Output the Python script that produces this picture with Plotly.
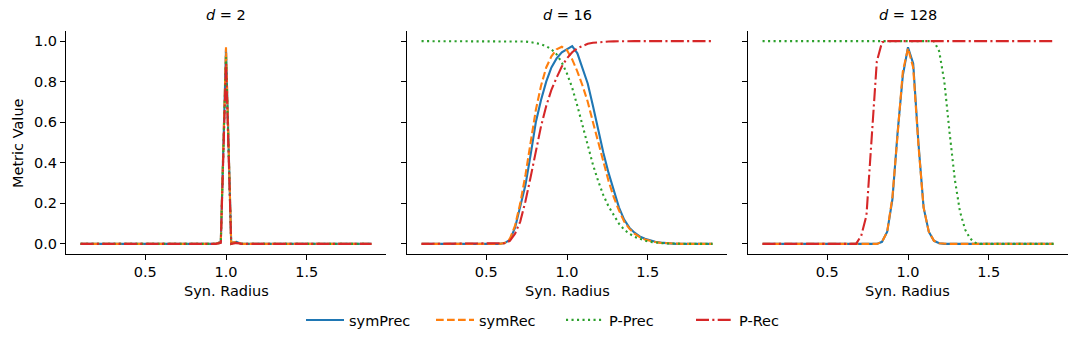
import plotly.graph_objects as go

# Sample grid (Syn. Radius)
x_radius = [0.1000, 0.1321, 0.1643, 0.1964, 0.2286, 0.2607, 0.2929, 0.3250, 0.3571, 0.3893,
            0.4214, 0.4536, 0.4857, 0.5179, 0.5500, 0.5821, 0.6143, 0.6464, 0.6786, 0.7107,
            0.7429, 0.7750, 0.8071, 0.8393, 0.8714, 0.9036, 0.9357, 0.9679, 1.0000, 1.0321,
            1.0643, 1.0964, 1.1286, 1.1607, 1.1929, 1.2250, 1.2571, 1.2893, 1.3214, 1.3536,
            1.3857, 1.4179, 1.4500, 1.4821, 1.5143, 1.5464, 1.5786, 1.6107, 1.6429, 1.6750,
            1.7071, 1.7393, 1.7714, 1.8036, 1.8357, 1.8679, 1.9000]

panel_titles = ["<i>d</i> = 2", "<i>d</i> = 16", "<i>d</i> = 128"]
series_names = ["symPrec", "symRec", "P-Prec", "P-Rec"]

# ---- d = 2 ----
sym_prec_d2 = [0, 0, 0, 0, 0, 0, 0, 0, 0, 0,
               0, 0, 0, 0, 0, 0, 0, 0, 0, 0,
               0, 0, 0, 0, 0, 0, 0, 0.01, 0.96, 0.005,
               0.01, 0, 0, 0, 0, 0, 0, 0, 0, 0,
               0, 0, 0, 0, 0, 0, 0, 0, 0, 0,
               0, 0, 0, 0, 0, 0, 0]
sym_rec_d2 = [0, 0, 0, 0, 0, 0, 0, 0, 0, 0,
              0, 0, 0, 0, 0, 0, 0, 0, 0, 0,
              0, 0, 0, 0, 0, 0, 0, 0.01, 0.97, 0.005,
              0.01, 0, 0, 0, 0, 0, 0, 0, 0, 0,
              0, 0, 0, 0, 0, 0, 0, 0, 0, 0,
              0, 0, 0, 0, 0, 0, 0]
p_prec_d2 = [0, 0, 0, 0, 0, 0, 0, 0, 0, 0,
             0, 0, 0, 0, 0, 0, 0, 0, 0, 0,
             0, 0, 0, 0, 0, 0, 0, 0.005, 0.92, 0,
             0.005, 0, 0, 0, 0, 0, 0, 0, 0, 0,
             0, 0, 0, 0, 0, 0, 0, 0, 0, 0,
             0, 0, 0, 0, 0, 0, 0]
p_rec_d2 = [0, 0, 0, 0, 0, 0, 0, 0, 0, 0,
            0, 0, 0, 0, 0, 0, 0, 0, 0, 0,
            0, 0, 0, 0, 0, 0, 0, 0.005, 0.89, 0,
            0.005, 0, 0, 0, 0, 0, 0, 0, 0, 0,
            0, 0, 0, 0, 0, 0, 0, 0, 0, 0,
            0, 0, 0, 0, 0, 0, 0]

# ---- d = 16 ----
sym_prec_d16 = [0, 0, 0, 0, 0, 0, 0, 0, 0, 0,
                0, 0, 0, 0, 0, 0, 0.004, 0.02, 0.08, 0.18,
                0.29, 0.44, 0.60, 0.71, 0.80, 0.87, 0.915, 0.945, 0.962, 0.975,
                0.94, 0.87, 0.79, 0.68, 0.56, 0.45, 0.35, 0.26, 0.18, 0.12,
                0.08, 0.055, 0.037, 0.025, 0.016, 0.01, 0.006, 0.003, 0.001, 0,
                0, 0, 0, 0, 0, 0, 0]
sym_rec_d16 = [0, 0, 0, 0, 0, 0, 0, 0, 0, 0,
               0, 0, 0, 0, 0, 0, 0.004, 0.025, 0.09, 0.20,
               0.34, 0.50, 0.66, 0.78, 0.87, 0.925, 0.96, 0.972, 0.955, 0.91,
               0.85, 0.78, 0.70, 0.60, 0.50, 0.40, 0.31, 0.23, 0.165, 0.11,
               0.075, 0.05, 0.033, 0.022, 0.014, 0.009, 0.005, 0.003, 0.001, 0,
               0, 0, 0, 0, 0, 0, 0]
p_prec_d16 = [1, 1, 1, 1, 1, 1, 1, 1, 1, 1,
              1, 1, 1, 1, 1, 1, 1, 1, 1, 1,
              0.998, 0.995, 0.99, 0.985, 0.975, 0.96, 0.935, 0.895, 0.84, 0.77,
              0.68, 0.58, 0.48, 0.39, 0.31, 0.24, 0.185, 0.14, 0.10, 0.07,
              0.05, 0.035, 0.024, 0.016, 0.01, 0.006, 0.004, 0.002, 0.001, 0,
              0, 0, 0, 0, 0, 0, 0]
p_rec_d16 = [0, 0, 0, 0, 0, 0, 0, 0, 0, 0,
             0, 0, 0, 0, 0, 0, 0.003, 0.015, 0.05, 0.11,
             0.21, 0.33, 0.46, 0.58, 0.68, 0.76, 0.82, 0.875, 0.915, 0.945,
             0.965, 0.978, 0.987, 0.992, 0.995, 0.997, 0.998, 0.999, 1, 1,
             1, 1, 1, 1, 1, 1, 1, 1, 1, 1,
             1, 1, 1, 1, 1, 1, 1]

# ---- d = 128 ----
sym_prec_d128 = [0, 0, 0, 0, 0, 0, 0, 0, 0, 0,
                 0, 0, 0, 0, 0, 0, 0, 0, 0, 0,
                 0, 0, 0, 0.01, 0.06, 0.22, 0.55, 0.83, 0.97, 0.89,
                 0.50, 0.18, 0.06, 0.015, 0.003, 0, 0, 0, 0, 0,
                 0, 0, 0, 0, 0, 0, 0, 0, 0, 0,
                 0, 0, 0, 0, 0, 0, 0]
sym_rec_d128 = [0, 0, 0, 0, 0, 0, 0, 0, 0, 0,
                0, 0, 0, 0, 0, 0, 0, 0, 0, 0,
                0, 0, 0, 0.01, 0.06, 0.23, 0.56, 0.85, 0.965, 0.87,
                0.49, 0.18, 0.06, 0.015, 0.003, 0, 0, 0, 0, 0,
                0, 0, 0, 0, 0, 0, 0, 0, 0, 0,
                0, 0, 0, 0, 0, 0, 0]
p_prec_d128 = [1, 1, 1, 1, 1, 1, 1, 1, 1, 1,
               1, 1, 1, 1, 1, 1, 1, 1, 1, 1,
               1, 1, 1, 1, 1, 1, 1, 1, 1, 1,
               1, 1, 1, 1, 0.95, 0.80, 0.55, 0.32, 0.16, 0.07,
               0.025, 0.005, 0, 0, 0, 0, 0, 0, 0, 0,
               0, 0, 0, 0, 0, 0, 0]
p_rec_d128 = [0, 0, 0, 0, 0, 0, 0, 0, 0, 0,
              0, 0, 0, 0, 0, 0, 0, 0, 0, 0.04,
              0.14, 0.52, 0.90, 0.995, 1, 1, 1, 1, 1, 1,
              1, 1, 1, 1, 1, 1, 1, 1, 1, 1,
              1, 1, 1, 1, 1, 1, 1, 1, 1, 1,
              1, 1, 1, 1, 1, 1, 1]

panels = [
    [sym_prec_d2, sym_rec_d2, p_prec_d2, p_rec_d2],
    [sym_prec_d16, sym_rec_d16, p_prec_d16, p_rec_d16],
    [sym_prec_d128, sym_rec_d128, p_prec_d128, p_rec_d128],
]

colors = ["#1f77b4", "#ff7f0e", "#2ca02c", "#d62728"]
dashes = ["solid", "7.7px,3.3px", "2.1px,3.4px", "13px,3.3px,2.1px,3.3px"]

W, H = 1079, 346
FONT = "DejaVu Sans"
FS = 14.5
x_domains = [(66 / W, 386 / W), (407 / W, 727 / W), (748 / W, 1068 / W)]
y_domain = (1 - 254 / H, 1 - 31 / H)

fig = go.Figure()
for p, series in enumerate(panels):
    ax = "" if p == 0 else str(p + 1)
    for s, vals in enumerate(series):
        fig.add_trace(go.Scatter(
            x=x_radius, y=vals, mode="lines",
            name=series_names[s], legendgroup=series_names[s],
            showlegend=(p == 0),
            line=dict(color=colors[s], width=2.1, dash=dashes[s]),
            xaxis="x" + ax, yaxis="y" + ax,
        ))

layout = dict(
    width=W, height=H,
    margin=dict(l=0, r=0, t=0, b=0, autoexpand=False),
    paper_bgcolor="white", plot_bgcolor="white",
    font=dict(family=FONT, size=FS, color="black"),
    legend=dict(orientation="h", x=301 / W, xanchor="left", y=1 - 320 / H,
                yanchor="middle", font=dict(size=FS), bgcolor="rgba(0,0,0,0)",
                entrywidth=77, tracegroupgap=0, itemwidth=38),
)
annotations = []
for p in range(3):
    ax = "" if p == 0 else str(p + 1)
    layout["xaxis" + ax] = dict(
        domain=list(x_domains[p]), range=[0.01, 1.99], anchor="y" + ax,
        tickvals=[0.5, 1.0, 1.5], ticktext=["0.5", "1.0", "1.5"],
        ticks="outside", ticklen=5, tickwidth=1, tickcolor="black",
        showline=True, linecolor="black", linewidth=1.1, automargin=False,
        showgrid=False, zeroline=False, tickfont=dict(size=FS),
    )
    layout["yaxis" + ax] = dict(
        domain=list(y_domain), range=[-0.05, 1.05], anchor="x" + ax,
        tickvals=[0, 0.2, 0.4, 0.6, 0.8, 1.0],
        ticktext=["0.0", "0.2", "0.4", "0.6", "0.8", "1.0"],
        showticklabels=(p == 0), automargin=False,
        ticks="outside", ticklen=5, tickwidth=1, tickcolor="black",
        showline=True, linecolor="black", linewidth=1.1,
        showgrid=False, zeroline=False, tickfont=dict(size=FS),
    )
    cx = (x_domains[p][0] + x_domains[p][1]) / 2
    annotations.append(dict(text=panel_titles[p], x=cx, y=1 - 15 / H, xref="paper", yref="paper",
                            showarrow=False, xanchor="center", yanchor="middle",
                            font=dict(size=FS)))
    annotations.append(dict(text="Syn. Radius", x=cx, y=1 - 291 / H, xref="paper", yref="paper",
                            showarrow=False, xanchor="center", yanchor="middle",
                            font=dict(size=FS)))
annotations.append(dict(text="Metric Value", x=18 / W, y=1 - 143 / H, xref="paper", yref="paper",
                        showarrow=False, xanchor="center", yanchor="middle", textangle=-90,
                        font=dict(size=FS)))
layout["annotations"] = annotations
fig.update_layout(**layout)
fig.write_html("out.html", config={"displayModeBar": False},
               post_script="document.body.style.margin='0';document.body.style.padding='0';")
